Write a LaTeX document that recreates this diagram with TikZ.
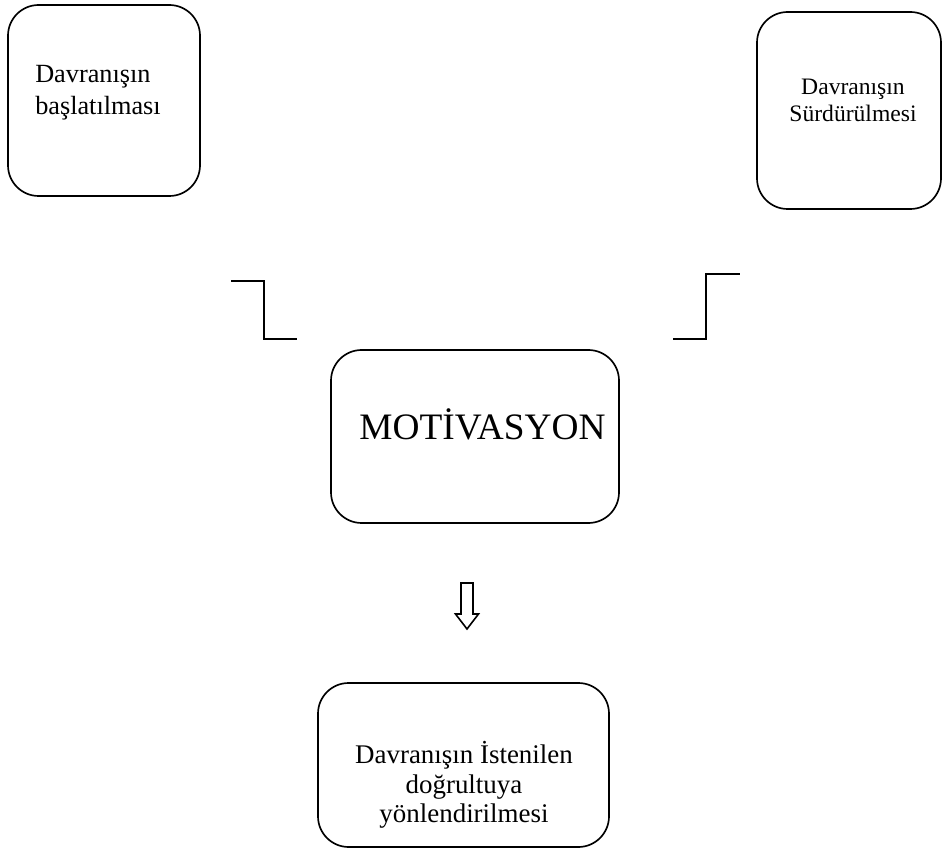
\documentclass[tikz,border=0pt]{standalone}
\usepackage{fontspec}
\setmainfont{Liberation Serif}
\begin{document}
\begin{tikzpicture}[x=0.75pt,y=-0.75pt,
  rbox/.style={draw, line width=1.25pt, rounded corners=23pt, inner sep=0pt, minimum width=#1},
  lbl/.style={inner sep=0pt, anchor=base},
  zline/.style={line width=1.3pt},
  fA/.style={font=\fontsize{19.7pt}{24pt}\selectfont},
  fB/.style={font=\fontsize{17.7pt}{21pt}\selectfont},
  fC/.style={font=\fontsize{20.2pt}{22pt}\selectfont},
  fD/.style={font=\fontsize{28pt}{30pt}\selectfont}]
\useasboundingbox (0,0) rectangle (943,848);
% boxes
\node[rbox=144pt, minimum height=143.25pt] (b1) at (104,100.5) {};
\node[rbox=138pt, minimum height=147.75pt] (b2) at (849,110.5) {};
\node[rbox=216pt, minimum height=129.75pt] (bm) at (475,436.5) {};
\node[rbox=218.25pt, minimum height=123pt] (bb) at (463.5,765) {};
% texts
\node[lbl, fA, anchor=base west] (t1a) at (35,83) {Davranışın};
\node[lbl, fA, anchor=base west] (t1b) at (35,115) {başlatılması};
\node[lbl, fB] (t2a) at (853,95) {Davranışın};
\node[lbl, fB] (t2b) at (853,122) {Sürdürülmesi};
\node[lbl, fD] (tm) at (482.5,440) {MOTİVASYON};
\node[lbl, fC] (tba) at (464,763) {Davranışın İstenilen};
\node[lbl, fC] (tbb) at (464,793) {doğrultuya};
\node[lbl, fC] (tbc) at (464,822) {yönlendirilmesi};
% step lines
\draw[zline] (231,281) -- (264,281) -- (264,339) -- (297,339);
\draw[zline] (673,339) -- (706,339) -- (706,274) -- (740,274);
% block arrow
\draw[line width=1.2pt, line join=miter] (461,583) -- (473,583) -- (473,614) -- (478.5,614) -- (467,629) -- (455.5,614) -- (461,614) -- cycle;
\end{tikzpicture}
\end{document}
